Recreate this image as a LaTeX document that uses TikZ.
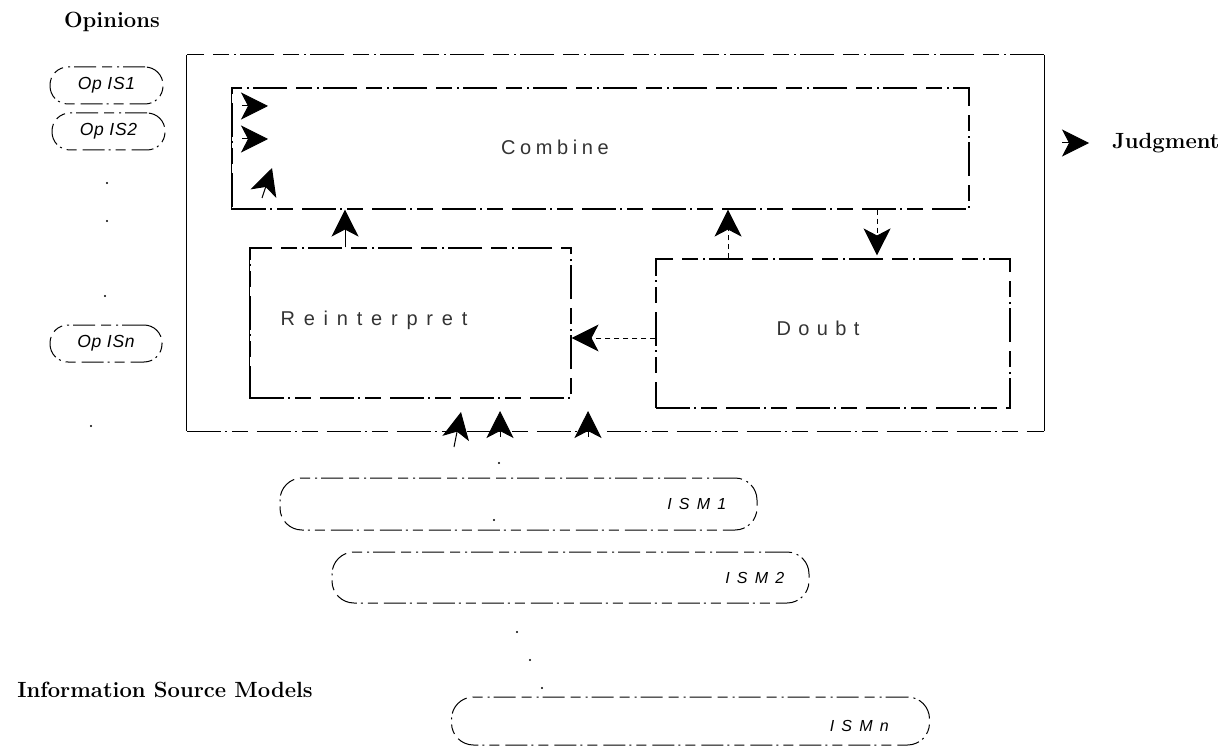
\documentclass[tikz,border=0pt]{standalone}
\usepackage{fontspec}
\usetikzlibrary{arrows.meta,calc}
% light, widely tracked face for the process names; slanted face for the tags
\newfontfamily\procfont[LetterSpace=40]{Liberation Sans}
\newfontfamily\tagfont[LetterSpace=16]{Liberation Sans}
\begin{document}
\begin{tikzpicture}[x=1pt,y=-1pt,
  every node/.style={inner sep=0pt},
  title/.style={font=\fontsize{22}{26}\selectfont\bfseries},
  edge/.style={line width=1.1pt, dash pattern=on 34pt off 4pt on 2pt off 5pt on 16pt off 9pt},
  solidedge/.style={line width=1.2pt},
  procbox/.style={draw, edge},
  proclabel/.style={font=\procfont\fontsize{20}{24}\selectfont\addfontfeatures{LetterSpace=#1}\color{black!80}},
  pill/.style={draw, line width=1pt, rounded corners=18pt,
    dash pattern=on 22pt off 4pt on 2pt off 5pt on 10pt off 6pt,
    minimum height=37pt, font=\tagfont\itshape\fontsize{17.5}{20}\selectfont\addfontfeatures{LetterSpace=4}},
  ismpill/.style={pill, rounded corners=22pt},
  ismlabel/.style={font=\tagfont\itshape\fontsize{16}{19}\selectfont\addfontfeatures{LetterSpace=45}},
  head/.style={-{Stealth[length=27pt,width=27pt,inset=7pt]}, line width=1pt},
  flow/.style={line width=0.9pt, dash pattern=on 5pt off 4pt},
  dot/.style={circle, fill, minimum size=2.4pt}
]
\useasboundingbox (0,0) rectangle (1229,746);

% headings
\node[title] (opinions) at (112,22) {Opinions};
\node[title] (ismodels) at (165,690) {Information Source Models};

% opinion tags
\node[pill, minimum width=113pt] (op1) at (106.5,85.5) {Op IS1};
\node[pill, minimum width=113pt] (op2) at (108.5,131.5) {Op IS2};
\node[pill, minimum width=112pt] (opn) at (106,343.5) {Op ISn};
\node[dot] (d1) at (107,183) {};
\node[dot] (d2) at (107,221) {};
\node[dot] (d3) at (105,296) {};
\node[dot] (d4) at (91,426) {};

% the judging system
\node[minimum width=857pt, minimum height=376pt] (system) at (615.5,243) {};
\draw[solidedge] (system.north west) -- (system.south west);
\draw[edge] (system.south west) -- (system.south east);
\draw[solidedge] (system.south east) -- (system.north east);
\draw[edge] (system.north east) -- (system.north west);

\node[procbox, minimum width=737pt, minimum height=121pt,
  label={[xshift=-45.5pt,yshift=1pt,proclabel=23]center:Combine}]
  (comb) at (600.5,148.5) {};
\draw[solidedge] (comb.north west) -- (comb.south west);

\node[procbox, minimum width=321pt, minimum height=150pt,
  label={[xshift=-36.5pt,yshift=3pt,proclabel=44]center:Reinterpret}]
  (reint) at (410.5,323) {};
\draw[solidedge] (reint.north west) -- (reint.south west);

\node[procbox, minimum width=354pt, minimum height=149pt,
  label={[xshift=-15pt,yshift=5.5pt,proclabel=37]center:Doubt}]
  (doubt) at (833,333.5) {};

% judgment output
\node[title, anchor=west] (judg) at (1112,143) {Judgment};
\coordinate (jin) at (1062,143);
\draw[head] (jin) -- ([xshift=-23pt]judg.west);

% flows between the processes
\coordinate (c1) at (345,0);
\coordinate (c2) at (728,0);
\coordinate (c3) at (877,0);
\coordinate (h1) at (0,338);
\draw[head] (c1 |- reint.north) -- (c1 |- comb.south);
\draw[head, flow] (c2 |- doubt.north) -- (c2 |- comb.south);
\draw[head, flow, shorten >=3pt] (c3 |- comb.south) -- (c3 |- doubt.north);
\draw[head, flow] (doubt.west |- h1) -- (reint.east |- h1);

% opinions entering Combine
\coordinate (o1) at (242,106);
\coordinate (o2) at (242,139);
\coordinate (o3) at (262,198);
\draw[head] (o1) -- (268,106);
\draw[head] (o2) -- (268,139);
\draw[head] (o3) -- (272,168);

% source models entering the system
\coordinate (b1) at (454,447);
\coordinate (b2) at (500,437);
\coordinate (b3) at (588,437);
\draw[head] (b1) -- (461,412);
\draw[head] (b2) -- (500,411);
\draw[head] (b3) -- (588,411);

% information source models
\node[dot] (d5) at (499,463) {};
\node[ismpill, minimum width=477pt, minimum height=52pt,
  label={[ismlabel,anchor=east,xshift=-31pt]east:ISM1}] (ism1) at (518.5,504) {};
\node[dot] (d6) at (494,520) {};
\node[ismpill, minimum width=477pt, minimum height=51pt,
  label={[ismlabel,anchor=east,xshift=-25pt]east:ISM2}] (ism2) at (570.5,577.5) {};
\node[dot] (d7) at (517,632) {};
\node[dot] (d8) at (530,660) {};
\node[dot] (d9) at (542,688) {};
\node[ismpill, minimum width=478pt, minimum height=48pt,
  label={[ismlabel,anchor=east,xshift=-41pt,yshift=-5pt]east:ISMn}] (ismn) at (690.5,721) {};
\end{tikzpicture}
\end{document}
